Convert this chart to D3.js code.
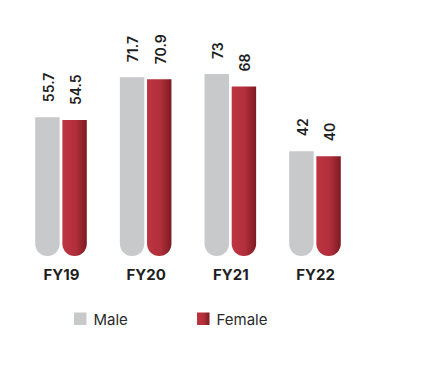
<!DOCTYPE html>
<html><head><meta charset="utf-8">
<script src="https://cdn.jsdelivr.net/npm/d3@7"></script>
<style>body{margin:0;background:#fff}svg{display:block}</style>
</head><body>
<svg id="c" width="435" height="365"></svg>
<script>
const categories = ["FY19", "FY20", "FY21", "FY22"];
const seriesNames = ["Male", "Female"];
const male = [55.7, 71.7, 73, 42];
const female = [54.5, 70.9, 68, 40];
const valueLabels = [["55.7","71.7","73","42"],["54.5","70.9","68","40"]];

const svg = d3.select("#c");
const defs = svg.append("defs");
const grad = defs.append("linearGradient").attr("id","redg").attr("x1","0").attr("x2","1").attr("y1","0").attr("y2","0");
grad.append("stop").attr("offset","0").attr("stop-color","#bf3441");
grad.append("stop").attr("offset","0.55").attr("stop-color","#b02f3b");
grad.append("stop").attr("offset","1").attr("stop-color","#7d1a22");

const colors = ["#c8c9cb", "url(#redg)"];
const x = d3.scalePoint().domain(categories).range([61, 315]);
const inner = d3.scaleBand().domain(seriesNames).range([-25.8, 25.8]).paddingInner(0.1);
const y = d3.scaleLinear().domain([0, 73]).range([256, 74]);
const font = "Inter, 'Noto Sans', sans-serif";

function barPath(x0, w, yTop, yBot) {
  const r = w / 2;
  const p = d3.path();
  p.moveTo(x0, yTop);
  p.lineTo(x0 + w, yTop);
  p.lineTo(x0 + w, yBot - r);
  p.arc(x0 + r, yBot - r, r, 0, Math.PI, false);
  p.closePath();
  return p.toString();
}

const data = [male, female];
seriesNames.forEach((s, si) => {
  const g = svg.append("g");
  categories.forEach((c, ci) => {
    const v = data[si][ci];
    const bx = x(c) + inner(s);
    const w = inner.bandwidth();
    g.append("path").attr("d", barPath(bx, w, y(v), y(0))).attr("fill", colors[si]);
    const cx = bx + w / 2 + 0.8;
    g.append("text")
      .attr("transform", `translate(${cx},${y(v) - 15}) rotate(-90)`)
      .attr("text-anchor", "start")
      .attr("dominant-baseline", "central")
      .attr("font-family", font).attr("font-size", 14).attr("font-weight", 600)
      .attr("fill", "#1e1e1e")
      .text(valueLabels[si][ci]);
  });
});

const xAxis = d3.axisBottom(x).tickSize(0).tickPadding(0);
const ax = svg.append("g").attr("transform", "translate(0,269)").call(xAxis);
ax.select(".domain").remove();
ax.selectAll("text").attr("font-family", font).attr("font-size", 15).attr("font-weight", 700).attr("fill", "#1e1e1e").attr("dy", "0.71em");

const legend = svg.append("g");
const legX = [74, 197];
seriesNames.forEach((s, i) => {
  legend.append("rect").attr("x", legX[i]).attr("y", 312.5).attr("width", 12.5).attr("height", 12.5).attr("fill", colors[i]);
  legend.append("text").attr("x", legX[i] + 19.5).attr("y", 324.5)
    .attr("font-family", font).attr("font-size", 15).attr("fill", "#2a2a2a").text(s);
});
</script>
</body></html>
